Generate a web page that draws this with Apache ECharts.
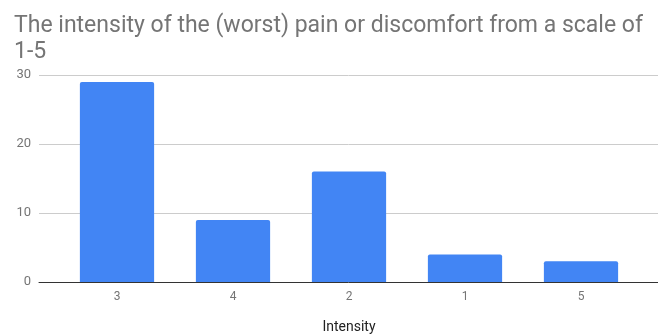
<!DOCTYPE html>
<html>
<head>
<meta charset="utf-8">
<script src="https://cdn.jsdelivr.net/npm/echarts@6/dist/echarts.min.js"></script>
<style>
  html, body { margin: 0; padding: 0; background: #fff; }
  #chart { width: 658px; height: 336px; }
</style>
</head>
<body>
<div id="chart"></div>
<script>
// Pain intensity responses, in the order the bars are shown
const categories = ['3', '4', '2', '1', '5'];
const counts = [29, 9, 16, 4, 3];
const yTicks = [0, 10, 20, 30];

const chart = echarts.init(document.getElementById('chart'), null, { renderer: 'canvas' });

const font = 'Roboto, "Noto Sans", sans-serif';
const yMin = yTicks[0];
const yMax = yTicks[yTicks.length - 1];
const yStep = yTicks[1] - yTicks[0];

chart.setOption({
  animation: false,
  backgroundColor: '#ffffff',
  title: {
    text: 'The intensity of the (worst) pain or discomfort from a scale of\n1-5',
    left: 9,
    top: 8,
    textStyle: {
      fontFamily: font,
      fontSize: 23,
      fontWeight: 'normal',
      color: '#757575',
      lineHeight: 26
    }
  },
  grid: [
    // frame: value gridlines and baseline across the full width
    { left: 39, right: 0, top: 75, bottom: 54, containLabel: false, outerBoundsMode: 'none' },
    // bars
    { left: 59, right: 19, top: 75, bottom: 54, containLabel: false, outerBoundsMode: 'none' }
  ],
  xAxis: [
    {
      gridIndex: 0,
      type: 'value',
      min: 0,
      max: 1,
      axisLine: { show: true, lineStyle: { color: '#333333', width: 1 } },
      axisTick: { show: false },
      axisLabel: { show: false },
      splitLine: { show: false }
    },
    {
      gridIndex: 1,
      type: 'category',
      data: categories,
      axisLine: { show: false },
      axisTick: { show: false },
      axisLabel: {
        margin: 9,
        fontFamily: font,
        fontSize: 12,
        color: '#757575'
      },
      name: 'Intensity',
      nameLocation: 'middle',
      nameGap: 38,
      nameTextStyle: {
        fontFamily: font,
        fontSize: 14,
        color: '#222222'
      }
    }
  ],
  yAxis: [
    {
      gridIndex: 0,
      type: 'value',
      min: yMin,
      max: yMax,
      interval: yStep,
      axisLine: { show: false },
      axisTick: { show: false },
      axisLabel: {
        margin: 8,
        fontFamily: font,
        fontSize: 13,
        color: '#757575'
      },
      splitLine: { show: true, lineStyle: { color: '#cccccc', width: 1 } }
    },
    {
      gridIndex: 1,
      type: 'value',
      min: yMin,
      max: yMax,
      interval: yStep,
      show: false,
      splitLine: { show: false }
    }
  ],
  series: [
    {
      type: 'bar',
      xAxisIndex: 1,
      yAxisIndex: 1,
      data: counts,
      barCategoryGap: '36%',
      itemStyle: { color: '#4285f4', borderRadius: [2, 2, 0, 0] },
      z: 3
    }
  ]
});
</script>
</body>
</html>
